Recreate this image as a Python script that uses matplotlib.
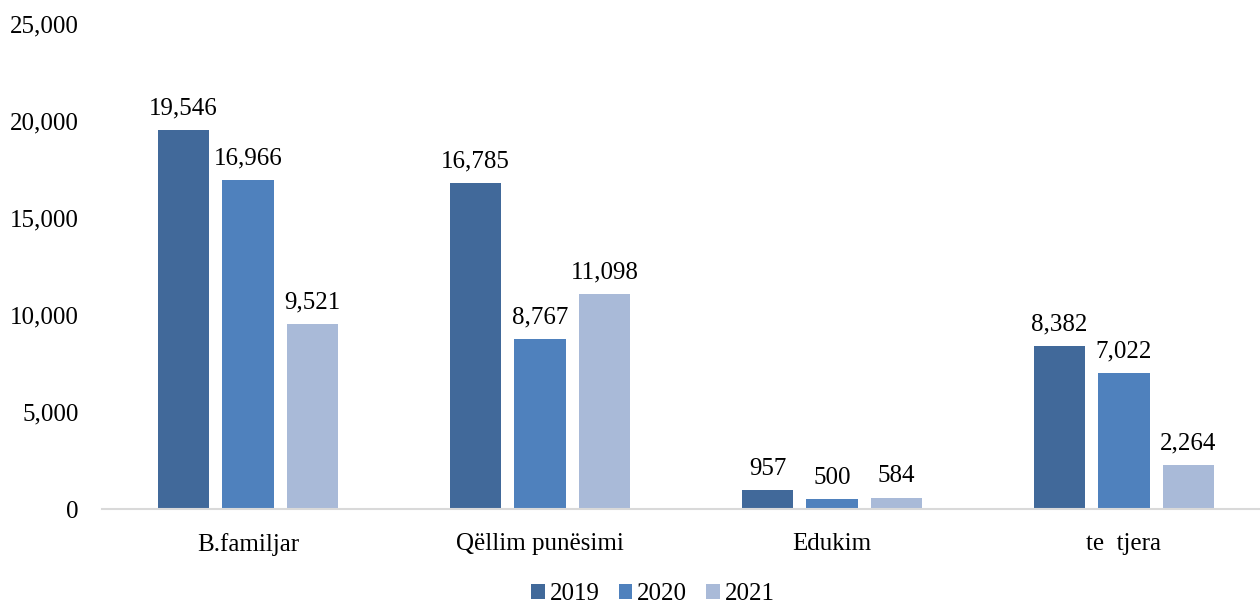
import numpy as np
import matplotlib
matplotlib.use('Agg')
import matplotlib.pyplot as plt
from matplotlib.ticker import FuncFormatter

# data
categories = ['B.familjar', 'Qëllim punësimi', 'Edukim', 'te  tjera']
years = ['2019', '2020', '2021']
vals_2019 = [19546, 16785, 957, 8382]
vals_2020 = [16966, 8767, 500, 7022]
vals_2021 = [9521, 11098, 584, 2264]
yticks = [0, 5000, 10000, 15000, 20000, 25000]

# style
_colors = ['#41699a', '#4f81bd', '#a9bad8']
_barw = 0.175
_step = 0.221
_fs = 18
plt.rcParams['font.family'] = ['Liberation Serif', 'DejaVu Serif']

fig = plt.figure(figsize=(12.6, 6.03), dpi=100)
ax = fig.add_axes([102 / 1260, 1 - 509 / 603, 1 - 102 / 1260, (509 - 24) / 603])

x = np.arange(len(categories))
series = [vals_2019, vals_2020, vals_2021]
for i, (yr, vals) in enumerate(zip(years, series)):
    pos = x + (i - 1) * _step
    bars = ax.bar(pos, vals, width=_barw, color=_colors[i], label=yr, zorder=2)
    for b, v in zip(bars, vals):
        ax.text(b.get_x() + b.get_width() / 2, v + 550, f'{v:,}',
                ha='center', va='bottom', fontsize=_fs)

ax.set_xlim(-0.5, (1260 - 248) / 292)
ax.set_ylim(0, 25000)
ax.set_yticks(yticks)
ax.yaxis.set_major_formatter(FuncFormatter(lambda v, p: f'{int(v):,}'))
ax.set_xticks(x)
ax.set_xticklabels(categories)
ax.tick_params(axis='both', length=0, labelsize=_fs)
ax.tick_params(axis='y', pad=17)
ax.tick_params(axis='x', pad=17)

for s in ['top', 'right', 'left']:
    ax.spines[s].set_visible(False)
ax.spines['bottom'].set_color('#d9d9d9')
ax.spines['bottom'].set_linewidth(1.5)

fig.legend(loc='center', bbox_to_anchor=(653 / 1260, 1 - 594 / 603), ncol=3,
           frameon=False, fontsize=_fs, handlelength=0.55, handleheight=0.55,
           handletextpad=0.2, columnspacing=0.75)

fig.savefig('out.png', dpi=100)
